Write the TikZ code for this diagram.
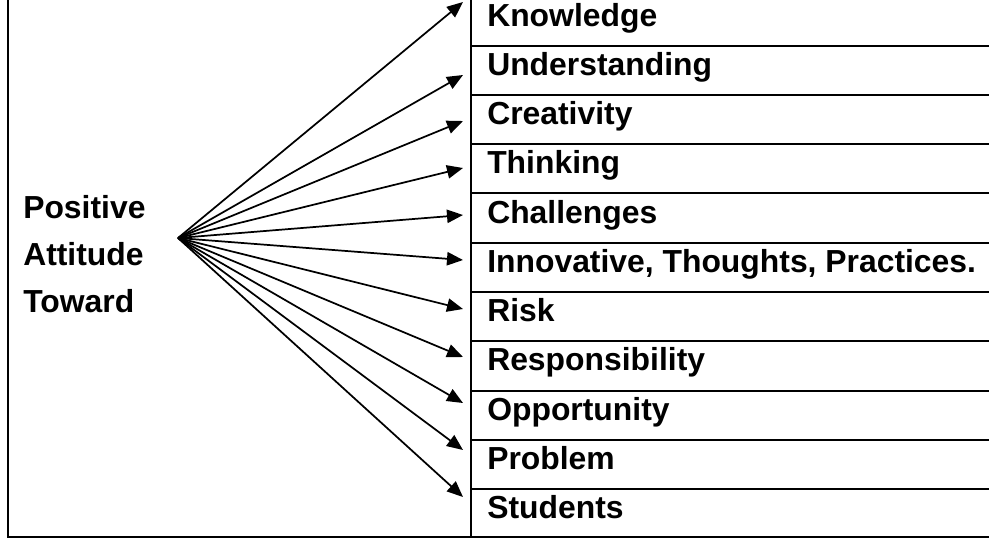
\documentclass[tikz,border=0pt]{standalone}
\usepackage{fontspec}
\setmainfont{Liberation Sans}
\usetikzlibrary{arrows.meta}
\tikzset{
  rule/.style={line width=1.5pt,line cap=rect},
  item/.style={anchor=base west,inner sep=0pt,font=\bfseries\fontsize{23.9pt}{28pt}\selectfont},
  ray/.style={-{Triangle[length=12pt,width=10pt]},line width=1.3pt},
}

\begin{document}
\begin{tikzpicture}[x=0.75pt,y=-0.75pt]
\useasboundingbox (0,0) rectangle (989,540);

% frame and divider
\coordinate (tl) at (8,0);
\coordinate (bl) at (8,537);
\coordinate (br) at (989,537);
\coordinate (dt) at (471,0);
\coordinate (db) at (471,537);
\draw[rule] (tl) -- (bl) -- (br);
\draw[rule] (dt) -- (db);

% row lines
\foreach \k in {0,...,9}
  \draw[rule] (471,45.7+49.26*\k) -- (989,45.7+49.26*\k);

% left label
\node[item] (pos) at (23,218) {Positive};
\node[item] (att) at (23,265) {Attitude};
\node[item] (tow) at (23,312) {Toward};

\coordinate (hub) at (178,238);

% rows and rays
\foreach \name/\txt/\tip [count=\i from 0] in {
    know/Knowledge/2,
    und/Understanding/75,
    cre/Creativity/121,
    thi/Thinking/168,
    cha/Challenges/215,
    inno/{Innovative, Thoughts, Practices.}/260,
    risk/Risk/309,
    resp/Responsibility/357,
    opp/Opportunity/403,
    prob/Problem/450,
    stud/Students/497} {
  \node[item] (\name) at (487,26+49.26*\i) {\txt};
  \coordinate (\name-tip) at (463,\tip);
  \draw[ray] (hub) -- (\name-tip);
}
\end{tikzpicture}
\end{document}
